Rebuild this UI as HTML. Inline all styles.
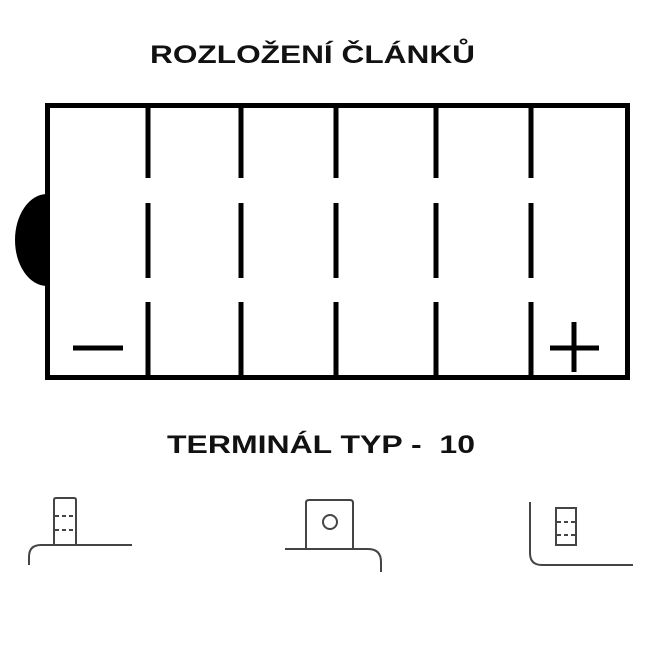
<!DOCTYPE html>
<html><head><meta charset="utf-8"><style>html,body{margin:0;padding:0;background:#fff}svg{display:block}</style></head>
<body>
<svg width="650" height="650" viewBox="0 0 650 650" xmlns="http://www.w3.org/2000/svg">
<rect width="650" height="650" fill="#fff"/>
<text x="150" y="63" font-family="Liberation Sans, sans-serif" font-weight="bold" font-size="25" textLength="325" lengthAdjust="spacingAndGlyphs" fill="#111">ROZLOŽENÍ ČLÁNKŮ</text>
<path d="M47 194 A32 46 0 0 0 47 286 Z" fill="#000"/>
<rect x="47.5" y="105.5" width="580" height="272" fill="none" stroke="#000" stroke-width="5"/>
<g stroke="#000" stroke-width="5">
<line x1="148" y1="106" x2="148" y2="178"/><line x1="148" y1="203" x2="148" y2="278"/><line x1="148" y1="302" x2="148" y2="377"/>
<line x1="241" y1="106" x2="241" y2="178"/><line x1="241" y1="203" x2="241" y2="278"/><line x1="241" y1="302" x2="241" y2="377"/>
<line x1="336" y1="106" x2="336" y2="178"/><line x1="336" y1="203" x2="336" y2="278"/><line x1="336" y1="302" x2="336" y2="377"/>
<line x1="436" y1="106" x2="436" y2="178"/><line x1="436" y1="203" x2="436" y2="278"/><line x1="436" y1="302" x2="436" y2="377"/>
<line x1="531" y1="106" x2="531" y2="178"/><line x1="531" y1="203" x2="531" y2="278"/><line x1="531" y1="302" x2="531" y2="377"/>
<line x1="73" y1="348" x2="123" y2="348"/>
<line x1="550" y1="348" x2="599" y2="348"/><line x1="574" y1="322" x2="574" y2="372"/>
</g>
<text x="167" y="453" font-family="Liberation Sans, sans-serif" font-weight="bold" font-size="25" textLength="308" lengthAdjust="spacingAndGlyphs" fill="#111" xml:space="preserve">TERMINÁL TYP -  10</text>
<g fill="none" stroke="#444" stroke-width="2">
<path d="M54 545 V500 Q54 498 56 498 H74 Q76 498 76 500 V545"/>
<path d="M55 516 H75 M55 530 H75" stroke-dasharray="4 3"/>
<path d="M29 565 V557 Q29 545 41 545 H132"/>
<path d="M306 549 V503 Q306 500 309 500 H350 Q353 500 353 503 V549"/>
<circle cx="330" cy="522" r="7"/>
<path d="M285 549 H368 Q381 549 381 562 V572"/>
<path d="M530 502 V553 Q530 565 542 565 H633"/>
<rect x="556" y="508" width="20" height="37"/>
<path d="M557 522 H575 M557 535 H575" stroke-dasharray="4 3"/>
</g>
</svg>
</body></html>
